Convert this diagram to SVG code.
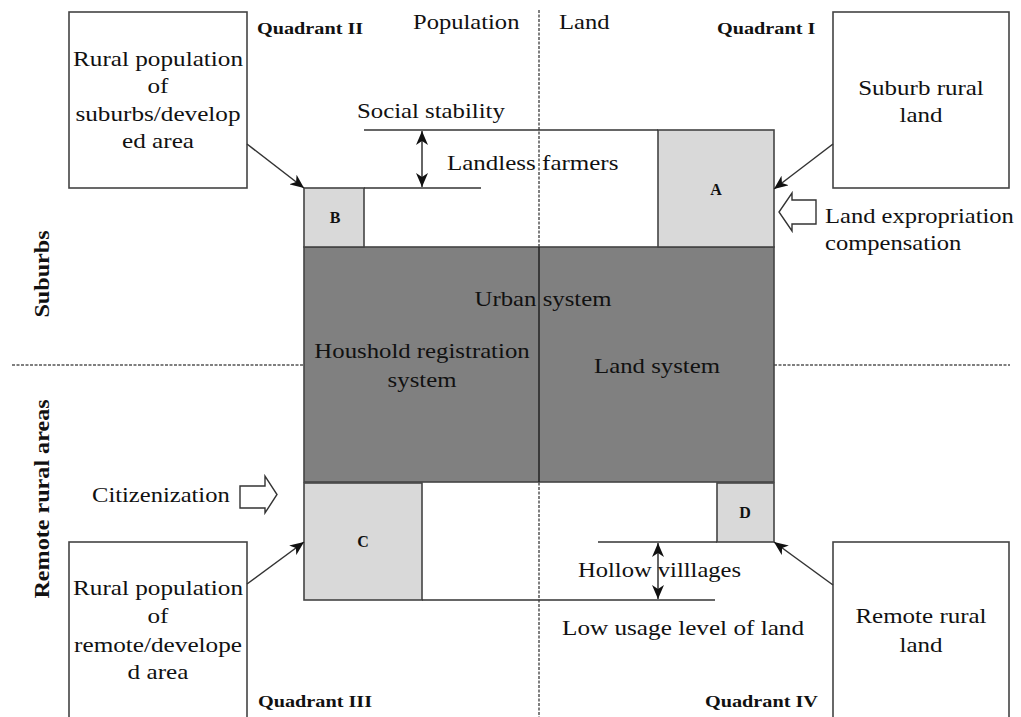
<svg xmlns="http://www.w3.org/2000/svg" width="1021" height="717" viewBox="0 0 1021 717">
<style>
.t{font-family:"Liberation Serif","Times New Roman",serif;font-size:21px;fill:#111}
.b{font-family:"Liberation Serif","Times New Roman",serif;font-weight:bold;fill:#111}
.q{font-size:17px}
.box{fill:#fff;stroke:#444;stroke-width:1.6}
.lt{fill:#d9d9d9;stroke:#444;stroke-width:1.6}
.dk{fill:#808080;stroke:#444;stroke-width:1.6}
.ln{stroke:#333;stroke-width:1.5;fill:none}
.ds{stroke:#555;stroke-width:1.5;stroke-dasharray:3 1.5;fill:none}
.blk{fill:#fff;stroke:#333;stroke-width:1.4}
</style>
<defs>
<marker id="ah" viewBox="0 0 14 12" refX="14" refY="6" markerWidth="14" markerHeight="12" orient="auto-start-reverse" markerUnits="userSpaceOnUse">
<path d="M0,0 L14,6 L0,12 L4,6 z" fill="#111"/>
</marker>
</defs>
<rect width="1021" height="717" fill="#fff"/>

<g id="guides">
<line class="ds" x1="539" y1="10" x2="539" y2="717"/>
<line class="ds" x1="12" y1="365" x2="304" y2="365"/>
<line class="ds" x1="774" y1="365" x2="1010" y2="365"/>
</g>

<g id="core">
<rect class="dk" x="304" y="247" width="470" height="235"/>
<line x1="539" y1="247" x2="539" y2="482" stroke="#222" stroke-width="1.5"/>
<text class="t" transform="translate(543 0) scale(1.18 1)" text-anchor="middle"><tspan x="0" y="306">Urban system</tspan></text>
<text class="t" transform="translate(422 0) scale(1.18 1)" text-anchor="middle"><tspan x="0" y="358">Houshold registration</tspan><tspan x="0" y="387">system</tspan></text>
<text class="t" transform="translate(657 0) scale(1.18 1)" text-anchor="middle"><tspan x="0" y="373">Land system</tspan></text>
</g>

<g id="nodeA">
<rect class="lt" x="658" y="130" width="116" height="117"/>
<text class="b" font-size="16" x="716" y="195" text-anchor="middle">A</text>
</g>
<g id="nodeB">
<rect class="lt" x="304" y="188" width="60" height="59"/>
<text class="b" font-size="16" x="335" y="223" text-anchor="middle">B</text>
</g>
<g id="nodeC">
<rect class="lt" x="304" y="483" width="118" height="117"/>
<text class="b" font-size="16" x="363" y="547" text-anchor="middle">C</text>
</g>
<g id="nodeD">
<rect class="lt" x="717" y="483" width="57" height="59"/>
<text class="b" font-size="16" x="745" y="518" text-anchor="middle">D</text>
</g>

<g id="box-tl">
<rect class="box" x="69" y="12" width="178" height="176"/>
<text class="t" transform="translate(158 0) scale(1.2 1)" text-anchor="middle"><tspan x="0" y="66">Rural population</tspan><tspan x="0" y="93">of</tspan><tspan x="0" y="121">suburbs/develop</tspan><tspan x="0" y="148">ed area</tspan></text>
</g>
<g id="box-tr">
<rect class="box" x="833" y="12" width="176" height="176"/>
<text class="t" transform="translate(921 0) scale(1.19 1)" text-anchor="middle"><tspan x="0" y="95">Suburb rural</tspan><tspan x="0" y="122">land</tspan></text>
</g>
<g id="box-bl">
<rect class="box" x="69" y="542" width="178" height="180"/>
<text class="t" transform="translate(158 0) scale(1.2 1)" text-anchor="middle"><tspan x="0" y="595">Rural population</tspan><tspan x="0" y="623">of</tspan><tspan x="0" y="652">remote/develope</tspan><tspan x="0" y="679">d area</tspan></text>
</g>
<g id="box-br">
<rect class="box" x="833" y="542" width="176" height="180"/>
<text class="t" transform="translate(921 0) scale(1.19 1)" text-anchor="middle"><tspan x="0" y="623">Remote rural</tspan><tspan x="0" y="652">land</tspan></text>
</g>

<g id="labels">
<text class="b q" transform="translate(257 0) scale(1.19 1)" x="0" y="34">Quadrant II</text>
<text class="b q" transform="translate(717 0) scale(1.19 1)" x="0" y="34">Quadrant I</text>
<text class="b q" transform="translate(258 0) scale(1.19 1)" x="0" y="707">Quadrant III</text>
<text class="b q" transform="translate(705 0) scale(1.19 1)" x="0" y="707">Quadrant IV</text>
<text class="t" transform="translate(413 0) scale(1.17 1)" x="0" y="29">Population</text>
<text class="t" transform="translate(559 0) scale(1.17 1)" x="0" y="29">Land</text>
<text class="t" transform="translate(357 0) scale(1.18 1)" x="0" y="118">Social stability</text>
<text class="t" transform="translate(447 0) scale(1.19 1)" x="0" y="170">Landless farmers</text>
<text class="t" transform="translate(578 0) scale(1.17 1)" x="0" y="577">Hollow villlages</text>
<text class="t" transform="translate(562 0) scale(1.2 1)" x="0" y="635">Low usage level of land</text>
<text class="t" transform="translate(92 0) scale(1.17 1)" x="0" y="502">Citizenization</text>
<text class="t" transform="translate(825 0) scale(1.17 1)" x="0" y="223">Land expropriation</text>
<text class="t" transform="translate(825 0) scale(1.17 1)" x="0" y="250">compensation</text>
<text class="b" font-size="21" transform="translate(49 274) rotate(-90) scale(1.15 1)" text-anchor="middle" x="0" y="0">Suburbs</text>
<text class="b" font-size="21" transform="translate(49 499) rotate(-90) scale(1.15 1)" text-anchor="middle" x="0" y="0">Remote rural areas</text>
</g>

<g id="connectors">
<line class="ln" x1="364" y1="130" x2="658" y2="130"/>
<line class="ln" x1="364" y1="188" x2="481" y2="188"/>
<line class="ln" x1="598" y1="542" x2="717" y2="542"/>
<line class="ln" x1="422" y1="600" x2="715" y2="600"/>
<line class="ln" x1="422" y1="131" x2="422" y2="187" marker-start="url(#ah)" marker-end="url(#ah)"/>
<line class="ln" x1="658" y1="543" x2="658" y2="599" marker-start="url(#ah)" marker-end="url(#ah)"/>
<line class="ln" x1="247" y1="144" x2="304" y2="188" marker-end="url(#ah)"/>
<line class="ln" x1="833" y1="144" x2="774" y2="189" marker-end="url(#ah)"/>
<line class="ln" x1="247" y1="584" x2="304" y2="542" marker-end="url(#ah)"/>
<line class="ln" x1="833" y1="585" x2="774" y2="542" marker-end="url(#ah)"/>
<polygon class="blk" points="240,486 265,486 265,476 277,494.5 265,513 265,508 240,508"/>
<polygon class="blk" points="816,200 792,200 792,193 779,212 792,231 792,224 816,224"/>
</g>
</svg>
